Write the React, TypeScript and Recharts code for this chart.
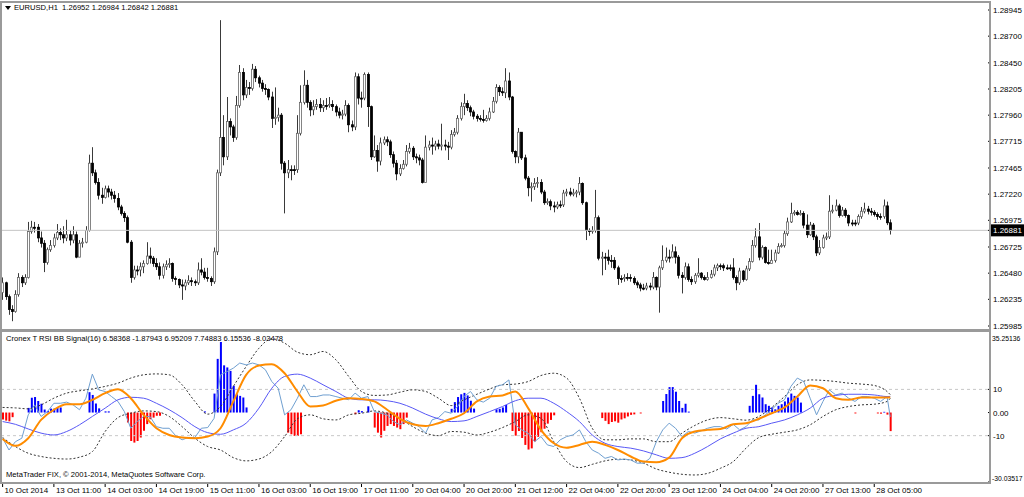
import React from "react";
import {
  ComposedChart,
  Bar,
  Line,
  XAxis,
  YAxis,
  ReferenceLine,
  Cell,
} from "recharts";

const FONT = "'Liberation Sans', Arial, sans-serif";

// EURUSD H1 candles, 10 Oct 2014 19:00 .. 28 Oct 2014
const FIRST_OPEN = 1.263;
const closes = [
  1.2639, 1.2626, 1.2614, 1.2612, 1.2628, 1.2644, 1.2639, 1.2644, 1.2687, 1.2691,
  1.2691, 1.2681, 1.2676, 1.2658, 1.267, 1.2674, 1.2681, 1.2686, 1.2684, 1.2681,
  1.2684, 1.2679, 1.2684, 1.2663, 1.2676, 1.2677, 1.2688, 1.2751, 1.2742, 1.2733,
  1.2721, 1.2719, 1.2727, 1.2724, 1.2721, 1.2718, 1.271, 1.2704, 1.27, 1.2677,
  1.2644, 1.2651, 1.2651, 1.2654, 1.2657, 1.2664, 1.2662, 1.2657, 1.2654, 1.2646,
  1.2654, 1.2656, 1.2657, 1.2643, 1.2642, 1.2637, 1.2636, 1.2639, 1.2641, 1.264,
  1.2639, 1.2651, 1.2649, 1.2644, 1.2643, 1.264, 1.2668, 1.2742, 1.2775, 1.2757,
  1.279, 1.2785, 1.2775, 1.2805, 1.2836, 1.2815, 1.2822, 1.2821, 1.2839, 1.2831,
  1.2826, 1.2821, 1.282, 1.2813, 1.2793, 1.2794, 1.2796, 1.2751, 1.2742, 1.2745,
  1.2745, 1.2745, 1.2779, 1.2808, 1.2824, 1.2808, 1.2801, 1.2804, 1.2806, 1.2803,
  1.2805, 1.2805, 1.2806, 1.2804, 1.2799, 1.2796, 1.2797, 1.2805, 1.2787, 1.2785,
  1.2832, 1.2812, 1.2812, 1.2834, 1.2804, 1.2757, 1.2763, 1.2753, 1.277, 1.2773,
  1.2771, 1.2759, 1.2751, 1.2741, 1.2746, 1.275, 1.2762, 1.2765, 1.2757, 1.2756,
  1.2754, 1.2733, 1.2766, 1.2768, 1.2767, 1.2769, 1.2767, 1.2768, 1.2767, 1.2766,
  1.2778, 1.278, 1.2793, 1.2804, 1.2807, 1.2803, 1.2799, 1.2795, 1.2793, 1.2792,
  1.2791, 1.2793, 1.2799, 1.2809, 1.2822, 1.2818, 1.2817, 1.2828, 1.2813, 1.2762,
  1.2757, 1.278, 1.2756, 1.2737, 1.2728, 1.2729, 1.2732, 1.2733, 1.2724, 1.2714,
  1.2715, 1.2711, 1.271, 1.2712, 1.2712, 1.2723, 1.2724, 1.2722, 1.2723, 1.2724,
  1.2732, 1.2714, 1.2688, 1.2687, 1.2688, 1.27, 1.2662, 1.2663, 1.2663, 1.266,
  1.266, 1.2653, 1.2643, 1.2643, 1.2644, 1.2644, 1.2643, 1.2639, 1.2637, 1.2634,
  1.2634, 1.2636, 1.2635, 1.2644, 1.2635, 1.2653, 1.266, 1.2663, 1.2663, 1.2668,
  1.2663, 1.2646, 1.2644, 1.2654, 1.2642, 1.264, 1.2646, 1.2648, 1.2644, 1.2642,
  1.2644, 1.2647, 1.2653, 1.2655, 1.2655, 1.2653, 1.2653, 1.2653, 1.2644, 1.2639,
  1.265, 1.2642, 1.2652, 1.2659, 1.2674, 1.2682, 1.2663, 1.2672, 1.2658, 1.2657,
  1.266, 1.2667, 1.2673, 1.2674, 1.2685, 1.2696, 1.2704, 1.2705, 1.2703, 1.2704,
  1.2693, 1.2684, 1.2693, 1.2682, 1.2667, 1.2672, 1.2681, 1.2682, 1.2706, 1.2707,
  1.2711, 1.2702, 1.2707, 1.2702, 1.2695, 1.2695, 1.2695, 1.2701, 1.2706, 1.2708,
  1.2706, 1.2705, 1.2703, 1.2701, 1.2701, 1.2711, 1.26952, 1.26881,
];
const highs = [
  1.2644, 1.264, 1.2628, 1.2618, 1.2632, 1.2648, 1.2646, 1.2647, 1.2696, 1.2697,
  1.2696, 1.2694, 1.2687, 1.2679, 1.2672, 1.2679, 1.2685, 1.2694, 1.269, 1.2692,
  1.2698, 1.2688, 1.2692, 1.2687, 1.2679, 1.2681, 1.2692, 1.2759, 1.2766, 1.2745,
  1.2737, 1.2728, 1.273, 1.273, 1.2727, 1.2725, 1.2723, 1.2712, 1.2706, 1.2702,
  1.2679, 1.2655, 1.2655, 1.2658, 1.266, 1.2677, 1.2672, 1.2664, 1.2662, 1.2658,
  1.2657, 1.266, 1.2662, 1.2658, 1.2645, 1.2643, 1.2642, 1.2642, 1.2646, 1.2644,
  1.2642, 1.2658, 1.2662, 1.2653, 1.2653, 1.2645, 1.2672, 1.2745, 1.2885, 1.2796,
  1.2813, 1.2793, 1.2787, 1.2814, 1.2843, 1.284, 1.2829, 1.2827, 1.2844, 1.2842,
  1.2833, 1.2829, 1.2825, 1.2821, 1.2818, 1.2822, 1.2803, 1.2798, 1.2753, 1.2754,
  1.2749, 1.2749, 1.2796, 1.2824, 1.2838, 1.2829, 1.281, 1.281, 1.2811, 1.2812,
  1.281, 1.2812, 1.2813, 1.281, 1.2806, 1.2803, 1.2801, 1.281, 1.2807, 1.2791,
  1.2836, 1.2835, 1.2818, 1.2836, 1.2836, 1.2805, 1.2777, 1.2768, 1.2775, 1.2776,
  1.2776, 1.2773, 1.2762, 1.2754, 1.275, 1.2754, 1.2768, 1.277, 1.2767, 1.276,
  1.2759, 1.2756, 1.2777, 1.2772, 1.2775, 1.2772, 1.2773, 1.2788, 1.2773, 1.2771,
  1.2782, 1.2784, 1.2796, 1.2808, 1.2816, 1.281, 1.2805, 1.2801, 1.2797, 1.2796,
  1.2801, 1.2796, 1.2803, 1.2813, 1.2825, 1.2824, 1.2822, 1.284, 1.2836, 1.2814,
  1.2763, 1.2784, 1.278, 1.2759, 1.2739, 1.2733, 1.2737, 1.2738, 1.2736, 1.2726,
  1.2718, 1.2717, 1.2715, 1.2715, 1.2716, 1.2726, 1.2727, 1.2728, 1.2727, 1.2726,
  1.2738, 1.2733, 1.2715, 1.269, 1.2692, 1.2726, 1.2702, 1.2668, 1.2667, 1.267,
  1.2665, 1.2663, 1.2655, 1.2646, 1.2647, 1.2648, 1.2647, 1.2645, 1.2641, 1.2639,
  1.2638, 1.2639, 1.2639, 1.2649, 1.2645, 1.2655, 1.2674, 1.2672, 1.267, 1.2675,
  1.2673, 1.2665, 1.2649, 1.2658, 1.2657, 1.2645, 1.2648, 1.2662, 1.2649, 1.2646,
  1.2649, 1.2651, 1.2656, 1.2657, 1.2657, 1.2657, 1.2656, 1.2656, 1.2662, 1.2646,
  1.2653, 1.2651, 1.2655, 1.2662, 1.2679, 1.269, 1.2695, 1.2674, 1.2673, 1.267,
  1.267, 1.267, 1.2676, 1.2676, 1.2688, 1.27, 1.2714, 1.2707, 1.2707, 1.2707,
  1.2706, 1.2703, 1.2696, 1.2695, 1.2684, 1.2679, 1.2684, 1.2686, 1.2721, 1.2712,
  1.2717, 1.2713, 1.271, 1.2709, 1.2703, 1.2698, 1.2698, 1.2703, 1.271, 1.2714,
  1.2711, 1.2709, 1.2707, 1.2705, 1.2704, 1.2717, 1.2715, 1.26984,
];
const lows = [
  1.2623, 1.2623, 1.2609, 1.2603, 1.2611, 1.2626, 1.2635, 1.2637, 1.2643, 1.2685,
  1.2686, 1.2677, 1.2672, 1.2649, 1.2656, 1.2668, 1.2672, 1.2679, 1.2679, 1.2676,
  1.2678, 1.2674, 1.2676, 1.2662, 1.2663, 1.2672, 1.2676, 1.2687, 1.2739, 1.2731,
  1.2717, 1.2713, 1.2718, 1.2719, 1.2717, 1.2714, 1.2707, 1.2702, 1.2696, 1.2676,
  1.2639, 1.2642, 1.2646, 1.2645, 1.2648, 1.2656, 1.2657, 1.2654, 1.2651, 1.2642,
  1.2643, 1.2651, 1.2653, 1.264, 1.2637, 1.2634, 1.2623, 1.2632, 1.2637, 1.2636,
  1.2636, 1.2637, 1.2646, 1.2642, 1.264, 1.2636, 1.2638, 1.2665, 1.2739, 1.2749,
  1.2754, 1.2777, 1.2771, 1.2773, 1.2803, 1.281, 1.2812, 1.2815, 1.2819, 1.2827,
  1.2822, 1.2818, 1.2815, 1.281, 1.2784, 1.2787, 1.279, 1.2745, 1.2704, 1.2737,
  1.2735, 1.274, 1.2742, 1.2777, 1.2806, 1.2803, 1.2795, 1.2796, 1.2801, 1.2799,
  1.2799, 1.2801, 1.2803, 1.28, 1.2795, 1.2793, 1.2792, 1.2795, 1.278, 1.2781,
  1.2782, 1.2806, 1.2803, 1.281, 1.2785, 1.2754, 1.2756, 1.2743, 1.2749, 1.2768,
  1.2767, 1.2756, 1.2747, 1.2735, 1.2739, 1.2745, 1.2748, 1.276, 1.2754, 1.2751,
  1.2749, 1.2732, 1.2733, 1.2763, 1.2759, 1.2763, 1.2764, 1.2763, 1.2763, 1.2754,
  1.2764, 1.2776, 1.2778, 1.2791, 1.2796, 1.28, 1.2795, 1.2792, 1.279, 1.279,
  1.2789, 1.279, 1.2791, 1.2798, 1.2807, 1.2814, 1.2814, 1.2812, 1.281, 1.276,
  1.2751, 1.2751, 1.2754, 1.2735, 1.272, 1.2715, 1.2726, 1.2728, 1.2722, 1.2712,
  1.2712, 1.2707, 1.2705, 1.2708, 1.2709, 1.271, 1.272, 1.272, 1.272, 1.2719,
  1.2721, 1.2712, 1.2679, 1.2683, 1.2685, 1.2686, 1.266, 1.2646, 1.2651, 1.2656,
  1.2653, 1.2651, 1.2637, 1.2639, 1.264, 1.2641, 1.264, 1.2637, 1.2634, 1.2631,
  1.2632, 1.2632, 1.2632, 1.2633, 1.2632, 1.2611, 1.2651, 1.2658, 1.2658, 1.2662,
  1.2657, 1.2643, 1.2629, 1.2642, 1.264, 1.2637, 1.2638, 1.2644, 1.2642, 1.2641,
  1.2641, 1.2643, 1.2645, 1.265, 1.2651, 1.265, 1.2651, 1.265, 1.2642, 1.2632,
  1.2637, 1.264, 1.2641, 1.265, 1.2658, 1.2672, 1.266, 1.2661, 1.2657, 1.2656,
  1.2657, 1.2658, 1.2666, 1.2672, 1.2672, 1.2683, 1.2695, 1.2702, 1.2702, 1.2702,
  1.269, 1.2681, 1.2683, 1.2679, 1.2664, 1.2665, 1.2671, 1.2679, 1.268, 1.2704,
  1.2706, 1.27, 1.2701, 1.27, 1.2692, 1.2692, 1.2692, 1.2693, 1.2699, 1.2704,
  1.2703, 1.2702, 1.2701, 1.2698, 1.2698, 1.2699, 1.2693, 1.26842,
];

const LAST_PRICE = 1.26881;
const PRICE_TICKS = [
  1.28945, 1.287, 1.2845, 1.28205, 1.2796, 1.27715, 1.27465, 1.2722, 1.26975,
  1.26725, 1.2648, 1.26235, 1.25985,
];
const PRICE_DOMAIN = [1.25957, 1.2902];

const TIME_TICK_BARS = [
  0, 16, 32, 48, 64, 80, 96, 112, 128, 144, 160, 176, 192, 208, 224, 240, 256, 272,
];
const TIME_LABELS = [
  "10 Oct 2014", "13 Oct 11:00", "14 Oct 03:00", "14 Oct 19:00", "15 Oct 11:00",
  "16 Oct 03:00", "16 Oct 19:00", "17 Oct 11:00", "20 Oct 04:00", "20 Oct 20:00",
  "21 Oct 12:00", "22 Oct 04:00", "22 Oct 20:00", "23 Oct 12:00", "24 Oct 04:00",
  "24 Oct 20:00", "27 Oct 13:00", "28 Oct 05:00",
];

// Cronex T RSI BB Signal(16): smooth buffers read every 4th bar
const LINE_BARS = [
  0, 4, 8, 12, 16, 20, 24, 28, 32, 36, 40, 44, 48, 52, 56, 60, 64, 68, 72, 76,
  80, 84, 88, 92, 96, 100, 104, 108, 112, 116, 120, 124, 128, 132, 136, 140, 144,
  148, 152, 156, 160, 164, 168, 172, 176, 180, 184, 188, 192, 196, 200, 204, 208,
  212, 216, 220, 224, 228, 232, 236, 240, 244, 248, 252, 256, 260, 264, 268, 272,
  276, 277,
];
const signal = [
  -11.4, -14.4, -11.1, -3.2, 1.2, 3.6, 3.6, 5.5, 8.4, 10.1,
  6.2, -1.0, -6.8, -9.7, -10.8, -11.1, -10.4, -6.8, 4.8, 16.3,
  20.3, 20.9, 17.0, 9.1, 2.6, 3.0, 5.1, 6.2, 5.9, 4.8,
  1.2, -2.7, -5.1, -5.8, -4.6, -2.7, -0.3, 4.8, 6.9, 7.4,
  9.1, 1.9, -7.5, -13.3, -15.2, -14.0, -12.6, -14.0, -16.2, -19.0,
  -21.2, -21.5, -19.5, -11.1, -8.2, -7.5, -7.1, -5.1, -4.6, -2.7,
  -0.3, 2.2, 6.9, 11.7, 10.5, 6.2, 5.5, 6.5, 6.5, 6.5,
  6.58368,
];
const slowLine = [
  -3.9, -5.1, -7.1, -8.9, -9.7, -8.2, -5.3, -1.7, 1.9, 5.5,
  6.6, 6.2, 4.0, 1.2, -2.2, -6.1, -8.7, -9.4, -7.5, -4.6,
  1.9, 10.5, 15.6, 16.6, 14.9, 12.0, 9.1, 6.2, 5.5, 5.5,
  5.1, 4.0, 1.9, -0.7, -2.7, -3.9, -3.6, -1.7, 0.4, 2.6,
  5.1, 6.2, 6.2, 4.0, 0.4, -3.9, -9.7, -13.3, -14.7, -15.4,
  -16.6, -18.3, -19.8, -19.5, -17.6, -14.7, -11.4, -8.9, -6.8, -6.1,
  -4.6, -3.2, -1.0, 1.9, 6.2, 7.4, 7.9, 7.9, 7.6, 6.9,
  6.95209,
];
const upperBand = [
  2.2, 2.0, 1.6, 3.3, 6.2, 8.4, 9.4, 10.2, 11.3, 12.7,
  14.9, 16.3, 16.7, 16.3, 12.0, 4.8, -0.7, 2.6, 11.3, 19.9,
  27.8, 31.9, 30.0, 26.1, 25.0, 26.4, 22.8, 15.6, 9.1, 7.4,
  7.6, 8.8, 9.8, 9.1, 6.2, 3.0, 5.5, 7.9, 10.2, 12.0,
  12.3, 13.4, 16.0, 17.0, 14.9, 6.2, -6.8, -11.8, -11.8, -11.4,
  -11.4, -12.6, -12.6, -8.9, -5.6, -3.2, -2.2, -2.7, -3.3, -1.7,
  2.2, 6.9, 12.0, 14.1, 13.9, 13.4, 12.7, 12.3, 11.7, 9.1,
  7.74883,
];
const lowerBand = [
  -10.8, -14.7, -17.6, -19.0, -19.8, -20.1, -19.3, -16.9, -8.2, -2.2,
  -0.3, 0.7, 0.4, -1.7, -6.1, -11.1, -14.7, -16.2, -19.5, -20.9,
  -20.1, -16.9, -10.4, -2.7, -1.0, -2.7, -3.2, -1.0, -0.3, 0.7,
  -0.3, -2.7, -6.1, -8.9, -10.0, -8.2, -8.5, -9.7, -8.5, -6.5,
  -3.9, -1.0, -2.5, -12.6, -21.2, -23.8, -22.4, -20.9, -20.2, -20.5,
  -21.9, -24.4, -25.8, -26.7, -27.0, -26.3, -24.1, -21.2, -15.4, -10.8,
  -9.4, -8.5, -7.5, -5.3, -1.7, 1.2, 2.6, 3.3, 3.6, 4.8,
  6.15536,
];

// fast RSI line read every 2nd bar
const RSI_BARS = [
  0, 2, 4, 6, 8, 10, 12, 14, 16, 18, 20, 22, 24, 26, 28, 30, 32, 34, 36, 38,
  40, 42, 44, 46, 48, 50, 52, 54, 56, 58, 60, 62, 64, 66, 68, 70, 72, 74, 76, 78,
  80, 82, 84, 86, 88, 90, 92, 94, 96, 98, 100, 102, 104, 106, 108, 110, 112, 114,
  116, 118, 120, 122, 124, 126, 128, 130, 132, 134, 136, 138, 140, 142, 144, 146,
  148, 150, 152, 154, 156, 158, 160, 162, 164, 166, 168, 170, 172, 174, 176, 178,
  180, 182, 184, 186, 188, 190, 192, 194, 196, 198, 200, 202, 204, 206, 208, 210,
  212, 214, 216, 218, 220, 222, 224, 226, 228, 230, 232, 234, 236, 238, 240, 242,
  244, 246, 248, 250, 252, 254, 256, 258, 260, 262, 264, 266, 268, 270, 272, 274,
  276, 277,
];
const rsi = [
  -11.1, -16.2, -12.6, -11.1, -1.0, 3.3, -1.7, 0.4, 4.0, 4.0,
  4.5, 3.3, 1.2, 6.2, 16.6, 9.8, 9.1, 6.9, 4.8, 0.4,
  -6.8, -3.9, -1.7, -1.7, -6.1, -6.8, -6.8, -10.0, -11.8, -10.8,
  -10.8, -6.8, -6.5, -2.5, 16.3, 17.7, 19.2, 21.4, 20.6, 21.4,
  20.6, 18.5, 13.4, 10.5, -1.0, 1.2, 6.2, 12.0, 6.9, 6.9,
  7.6, 7.6, 6.9, 6.2, 5.5, 8.4, 6.2, 6.9, 0.4, -0.3,
  -1.0, -3.9, -5.3, -3.2, -4.6, -6.1, -8.9, -3.2, -2.2, 0.4,
  -0.3, 2.6, 6.9, 9.1, 5.5, 4.5, 6.2, 11.3, 12.0, 14.1,
  -5.3, -7.5, -8.9, -12.6, -10.4, -14.0, -14.7, -11.8, -10.4, -9.7,
  -7.5, -12.6, -16.2, -17.6, -19.8, -19.0, -20.5, -20.1, -20.5, -21.9,
  -21.9, -19.8, -12.6, -7.5, -4.6, -6.8, -10.4, -8.2, -8.9, -7.9,
  -6.8, -6.1, -6.1, -7.1, -5.1, -7.5, -6.1, -3.2, -3.2, -1.0,
  1.2, 4.0, 5.5, 11.3, 14.9, 13.4, 6.2, -1.0, 4.8, 9.8,
  7.6, 8.4, 6.2, 4.8, 6.9, 6.9, 6.2, 4.8, 6.9, -1.87943,
];

const HIST_BARS = [
  0, 1, 2, 3, 8, 9, 10, 11, 12, 13, 14, 15, 16, 17, 18, 27, 28, 29, 30, 32, 33,
  39, 40, 41, 42, 43, 44, 45, 46, 47, 48, 49, 63, 66, 67, 68, 69, 70, 71, 72, 73,
  74, 75, 76, 89, 90, 91, 92, 93, 110, 111, 112, 114, 116, 117, 118, 119, 120,
  121, 122, 123, 124, 125, 126, 140, 141, 142, 143, 144, 145, 146, 147, 154, 155,
  156, 157, 159, 160, 161, 162, 163, 164, 165, 166, 167, 168, 169, 170, 171, 172,
  187, 188, 189, 190, 191, 192, 193, 194, 195, 196, 197, 199, 206, 207, 208, 209,
  210, 211, 212, 213, 214, 233, 234, 235, 236, 237, 238, 239, 240, 241, 242, 243,
  244, 245, 246, 247, 248, 249, 266, 273, 274, 275, 276, 277,
];
const hist = [
  -3.0, -3.5, -3.8, -2.0, 2.0, 6.4, 6.7, 5.0, 3.8, 1.3, 0.7, 1.7, 1.7, 2.0, 2.2,
  8.8, 7.6, 3.9, 1.8, 0.5, 0.5,
  -4.3, -12.3, -13.0, -12.3, -10.8, -7.9, -5.0, -2.9, -2.2, -1.4, -1.4, 0.5,
  8.2, 23.2, 30.5, 20.4, 19.5, 18.0, 11.5, 7.9, 7.2, 6.5, 2.2,
  -8.7, -9.4, -10.1, -10.1, -9.4, -0.7, 1.0, 0.6, 2.7,
  -6.5, -8.7, -10.8, -7.9, -5.8, -5.0, -5.8, -6.5, -7.2, -5.0, -2.2,
  1.6, 4.5, 6.7, 7.9, 8.5, 7.4, 5.1, 1.7, 1.4, 1.6, 2.2, 3.3,
  -8.0, -10.0, -8.0, -11.0, -14.0, -16.0, -15.5, -12.5, -10.5, -8.5, -7.0, -4.8,
  -3.2, -1.2,
  -2.4, -3.6, -5.0, -4.1, -3.8, -4.4, -3.0, -2.5, -1.7, -1.0, -0.8, -0.4,
  5.0, 8.0, 11.0, 11.0, 9.0, 5.0, 2.0, 3.8, 0.4,
  2.9, 7.2, 12.0, 7.9, 6.5, 3.6, 2.9, 2.2, 1.4, 2.9, 3.6, 4.8, 6.5, 8.2, 7.2, 6.5,
  4.3, -0.4, -0.4, -0.5, 0.3, -0.9, -8.03478,
];

const IND_TICKS = [35.25136, 10, 0, -10, -30.03517];
const IND_TICK_LABELS = ["35.25136", "10", "0.00", "-10", "-30.03517"];
const IND_DOMAIN = [-30.03517, 35.25136];

const SLOTS = 308; // bars plus the empty shift area on the right

type Row = {
  i: number;
  open?: number;
  close?: number;
  high?: number;
  low?: number;
  range?: [number, number];
  signal?: number;
  slow?: number;
  upper?: number;
  lower?: number;
  rsi?: number;
  hist?: number;
};

const rows: Row[] = Array.from({ length: SLOTS }, (_, i) => ({ i }));
closes.forEach((c, i) => {
  const r = rows[i];
  r.open = i === 0 ? FIRST_OPEN : closes[i - 1];
  r.close = c;
  r.high = highs[i];
  r.low = lows[i];
  r.range = [lows[i], highs[i]];
});
LINE_BARS.forEach((b, k) => {
  rows[b].signal = signal[k];
  rows[b].slow = slowLine[k];
  rows[b].upper = upperBand[k];
  rows[b].lower = lowerBand[k];
});
RSI_BARS.forEach((b, k) => {
  rows[b].rsi = rsi[k];
});
HIST_BARS.forEach((b, k) => {
  rows[b].hist = hist[k];
});

function Candle(props: any) {
  const { x, y, width, height, payload } = props;
  if (payload == null || payload.high == null) return null;
  const cx = Math.floor(x + width / 2) + 0.5;
  const span = payload.high - payload.low || 1e-9;
  const k = height / span;
  const top = y + (payload.high - Math.max(payload.open, payload.close)) * k;
  const bot = y + (payload.high - Math.min(payload.open, payload.close)) * k;
  const bull = payload.close > payload.open;
  return (
    <g>
      <line x1={cx} x2={cx} y1={y} y2={y + height} stroke="#3a3a3a" strokeWidth={1} />
      <rect
        x={cx - 1}
        y={top}
        width={2}
        height={Math.max(bot - top, 1)}
        fill={bull ? "#fff" : "#000"}
        stroke={bull ? "#666" : "#000"}
        strokeWidth={0.8}
      />
    </g>
  );
}

function PriceTick(props: any) {
  const { x, y, payload } = props;
  const v = payload.value as number;
  if (v === LAST_PRICE) {
    return (
      <g>
        <rect x={x - 4} y={y - 6} width={36} height={12} fill="#000" />
        <text x={x} y={y} dy={3} fill="#fff" fontSize={8} fontFamily={FONT}>
          {v.toFixed(5)}
        </text>
      </g>
    );
  }
  return (
    <text x={x} y={y} dy={3} fill="#000" fontSize={8} fontFamily={FONT}>
      {v.toFixed(5)}
    </text>
  );
}

function IndTick(props: any) {
  const { x, y, payload } = props;
  const idx = IND_TICKS.indexOf(payload.value);
  const edge = idx === 0 || idx === IND_TICKS.length - 1;
  const shift = idx === 0 ? 7 : idx === IND_TICKS.length - 1 ? -4 : 0;
  return (
    <text
      x={edge ? x - 1 : x}
      y={y + shift}
      dy={3}
      fill="#000"
      fontSize={edge ? 6.8 : 8}
      fontFamily={FONT}
    >
      {IND_TICK_LABELS[idx]}
    </text>
  );
}

function TimeTick(props: any) {
  const { x, y, payload } = props;
  const label = TIME_LABELS[TIME_TICK_BARS.indexOf(payload.value)];
  return (
    <g>
      <line x1={x} x2={x} y1={y} y2={y + 5} stroke="#000" />
      <text x={x + 2} y={y + 11} fill="#000" fontSize={8} fontFamily={FONT}>
        {label}
      </text>
    </g>
  );
}

const textStyle: React.CSSProperties = {
  position: "absolute",
  fontFamily: FONT,
  fontSize: 7.6,
  lineHeight: "10px",
  color: "#000",
  whiteSpace: "nowrap",
};

export default function App() {
  return (
    <div
      style={{
        position: "absolute",
        left: 0,
        top: 0,
        width: 1024,
        height: 497,
        background: "#fff",
        overflow: "hidden",
      }}
    >
      <div style={{ position: "absolute", left: 0, top: 0 }}>
        <ComposedChart
          width={1024}
          height={331}
          data={rows}
          margin={{ top: 2, right: 0, bottom: 2, left: 1 }}
        >
          <XAxis dataKey="i" hide />
          <YAxis
            orientation="right"
            width={36}
            domain={PRICE_DOMAIN}
            allowDataOverflow
            ticks={[...PRICE_TICKS, LAST_PRICE]}
            interval={0}
            tick={<PriceTick />}
            tickSize={3}
            tickMargin={2}
            tickLine={{ stroke: "#000" }}
            axisLine={false}
          />
          <ReferenceLine y={LAST_PRICE} stroke="#c4c4c4" strokeWidth={1} />
          <Bar
            dataKey="range"
            isAnimationActive={false}
            shape={(p: any) => <Candle {...p} />}
          />
        </ComposedChart>
      </div>

      <div style={{ position: "absolute", left: 0, top: 331 }}>
        <ComposedChart
          width={1024}
          height={166}
          data={rows}
          margin={{ top: 0, right: 0, bottom: 0, left: 1 }}
        >
          <XAxis
            dataKey="i"
            ticks={TIME_TICK_BARS}
            interval={0}
            height={15}
            tickSize={0}
            tickMargin={0}
            tickLine={false}
            axisLine={false}
            tick={<TimeTick />}
          />
          <YAxis
            orientation="right"
            width={36}
            domain={IND_DOMAIN}
            allowDataOverflow
            ticks={IND_TICKS}
            interval={0}
            tick={<IndTick />}
            tickSize={3}
            tickMargin={2}
            tickLine={{ stroke: "#000" }}
            axisLine={false}
          />
          <ReferenceLine y={10} stroke="#c8c8c8" strokeDasharray="3 3" />
          <ReferenceLine y={-10} stroke="#c8c8c8" strokeDasharray="3 3" />
          <Bar dataKey="hist" barSize={2} isAnimationActive={false}>
            {rows.map((r) => (
              <Cell key={r.i} fill={(r.hist ?? 0) >= 0 ? "#0000ff" : "#ff0000"} />
            ))}
          </Bar>
          <Line
            dataKey="upper"
            type="monotone"
            connectNulls
            stroke="#333"
            strokeWidth={1}
            strokeDasharray="2 2"
            dot={false}
            isAnimationActive={false}
          />
          <Line
            dataKey="lower"
            type="monotone"
            connectNulls
            stroke="#333"
            strokeWidth={1}
            strokeDasharray="2 2"
            dot={false}
            isAnimationActive={false}
          />
          <Line
            dataKey="rsi"
            type="linear"
            connectNulls
            stroke="#6f9fd0"
            strokeWidth={1}
            dot={false}
            isAnimationActive={false}
          />
          <Line
            dataKey="slow"
            type="monotone"
            connectNulls
            stroke="#5858f5"
            strokeWidth={1}
            dot={false}
            isAnimationActive={false}
          />
          <Line
            dataKey="signal"
            type="monotone"
            connectNulls
            stroke="#ff8c00"
            strokeWidth={2}
            dot={false}
            isAnimationActive={false}
          />
        </ComposedChart>
      </div>

      {/* panel frames */}
      <div
        style={{
          position: "absolute",
          left: 0,
          top: 1,
          width: 991,
          height: 330,
          border: "2px solid #9a9a9a",
          boxSizing: "border-box",
          pointerEvents: "none",
        }}
      />
      <div
        style={{
          position: "absolute",
          left: 0,
          top: 330,
          width: 991,
          height: 154,
          border: "2px solid #9a9a9a",
          boxSizing: "border-box",
          pointerEvents: "none",
        }}
      />

      <svg style={{ position: "absolute", left: 5, top: 6 }} width={6} height={4}>
        <polygon points="0,0 6,0 3,4" fill="#000" />
      </svg>
      <div style={{ ...textStyle, left: 14, top: 3 }}>
        EURUSD,H1&nbsp;&nbsp;1.26952 1.26984 1.26842 1.26881
      </div>
      <div style={{ ...textStyle, left: 6, top: 334 }}>
        Cronex T RSI BB Signal(16) 6.58368 -1.87943 6.95209 7.74883 6.15536 -8.03478
      </div>
      <div style={{ ...textStyle, left: 6, top: 470 }}>
        MetaTrader FIX, © 2001-2014, MetaQuotes Software Corp.
      </div>
    </div>
  );
}
